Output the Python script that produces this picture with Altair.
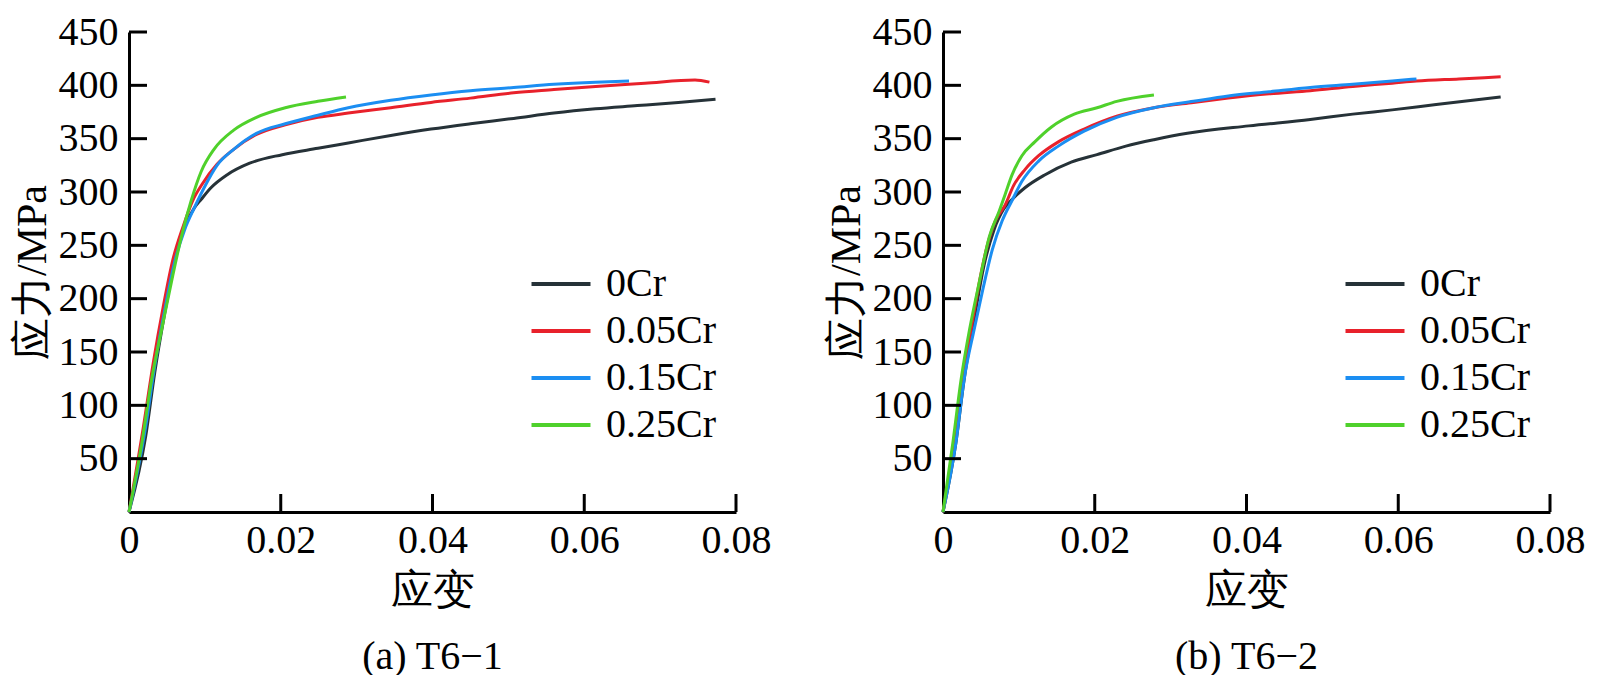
import altair as alt
import pandas as pd

SERIES = ["0Cr", "0.05Cr", "0.15Cr", "0.25Cr"]
COLORS = ["#263238", "#e8212b", "#1b8ef2", "#4fd12b"]
XTICKS = [0, 0.02, 0.04, 0.06, 0.08]
YTICKS = [50, 100, 150, 200, 250, 300, 350, 400, 450]
CAPTIONS = ["(a) T6\u22121", "(b) T6\u22122"]
X_TITLE = "应变"
Y_TITLE = "应力/MPa"

# ---- panel (a) T6-1 ----
a_0cr_strain = [0, 0.0022, 0.0034, 0.0047, 0.006, 0.0073, 0.0086, 0.0095, 0.0108, 0.0129, 0.0159,
                0.0202, 0.0249, 0.0289, 0.0345, 0.0398, 0.045, 0.0507, 0.056, 0.0615, 0.067, 0.0724, 0.0773]
a_0cr_stress = [0, 71, 131, 186, 234, 267, 285, 293, 304, 316, 327, 335, 341, 346, 353, 359, 364,
                369, 374, 378, 381, 384, 387]
a_005_strain = [0, 0.0019, 0.0032, 0.0045, 0.0058, 0.0071, 0.0084, 0.0097, 0.0116, 0.0138, 0.0168,
                0.0206, 0.0249, 0.0289, 0.0345, 0.0398, 0.045, 0.0507, 0.056, 0.0615, 0.068, 0.0746, 0.0765]
a_005_stress = [0, 80, 140, 192, 237, 267, 292, 308, 326, 340, 354, 363, 370, 374, 379, 384, 388,
                393, 396, 399, 402, 405, 403]
a_015_strain = [0, 0.0022, 0.0034, 0.0047, 0.006, 0.0073, 0.0086, 0.0099, 0.0116, 0.0138, 0.0168,
                0.0206, 0.0249, 0.0289, 0.0345, 0.0398, 0.045, 0.0507, 0.056, 0.0615, 0.0659]
a_015_stress = [0, 80, 137, 189, 234, 264, 285, 304, 325, 340, 355, 364, 372, 379, 386, 391, 395,
                398, 401, 403, 404]
a_025_strain = [0, 0.0017, 0.003, 0.0043, 0.0056, 0.0069, 0.0082, 0.0095, 0.0112, 0.0138, 0.0168,
                0.0206, 0.0249, 0.0286]
a_025_stress = [0, 65, 125, 171, 216, 258, 292, 319, 340, 358, 370, 379, 385, 389]

# ---- panel (b) T6-2 ----
b_0cr_strain = [0, 0.0017, 0.0028, 0.0041, 0.0054, 0.0067, 0.008, 0.0091, 0.0108, 0.0134, 0.0169,
                0.0203, 0.0241, 0.0278, 0.0322, 0.0403, 0.0484, 0.054, 0.0592, 0.065, 0.0735]
b_0cr_stress = [0, 65, 125, 180, 231, 264, 284, 293, 304, 316, 328, 335, 343, 349, 355, 362, 368,
                373, 377, 382, 389]
b_005_strain = [0, 0.0015, 0.0026, 0.0037, 0.0048, 0.0058, 0.0069, 0.0082, 0.0093, 0.0108, 0.0126,
                0.0152, 0.0186, 0.0229, 0.0278, 0.033, 0.0376, 0.043, 0.0484, 0.054, 0.0592, 0.0624,
                0.068, 0.0735]
b_005_stress = [0, 65, 125, 171, 216, 249, 273, 288, 306, 321, 334, 347, 359, 371, 379, 384, 388,
                392, 395, 399, 402, 404, 406, 408]
b_015_strain = [0, 0.0017, 0.0028, 0.0041, 0.0052, 0.0065, 0.0078, 0.0091, 0.0104, 0.0126, 0.0152,
                0.0186, 0.0229, 0.0278, 0.033, 0.0376, 0.043, 0.0484, 0.054, 0.0592, 0.0624]
b_015_stress = [0, 65, 125, 171, 207, 246, 273, 292, 310, 329, 343, 357, 370, 379, 385, 390, 394,
                398, 401, 404, 406]
b_025_strain = [0, 0.0013, 0.0024, 0.0035, 0.0048, 0.0061, 0.0074, 0.0082, 0.0091, 0.0104, 0.0121,
                0.0143, 0.0173, 0.0203, 0.0229, 0.0278]
b_025_stress = [0, 65, 125, 171, 216, 258, 282, 298, 316, 334, 347, 361, 373, 379, 385, 391]

FONT = "Liberation Serif, Times New Roman, DejaVu Serif, serif"
W, H = 607, 480
TICK_LEN = 18


def frame(pairs):
    rows = []
    for name, (xs, ys) in zip(SERIES, pairs):
        for i, (x, y) in enumerate(zip(xs, ys)):
            rows.append({"series": name, "strain": x, "stress": y, "i": i})
    return pd.DataFrame(rows)


def panel(df, caption):
    x_enc = alt.X(
        "strain:Q",
        scale=alt.Scale(domain=[0, 0.08], nice=False, zero=True),
        axis=alt.Axis(
            values=XTICKS, title=X_TITLE, grid=False, ticks=False, tickSize=0,
            labelExpr="datum.value == 0 ? '0' : format(datum.value, '.2f')",
            domainColor="black", domainWidth=3, labelColor="black",
            labelFont=FONT, labelFontSize=40, labelPadding=8, labelFlush=False,
            titleFont=FONT, titleFontSize=42, titleFontWeight="normal", titleColor="black",
            titlePadding=10,
        ),
    )
    y_enc = alt.Y(
        "stress:Q",
        scale=alt.Scale(domain=[0, 450], nice=False),
        axis=alt.Axis(
            values=YTICKS, title=Y_TITLE, grid=False, ticks=False, tickSize=0,
            domainColor="black", domainWidth=3, labelColor="black",
            labelFont=FONT, labelFontSize=40, labelPadding=11, labelFlush=False,
            titleFont=FONT, titleFontSize=42, titleFontWeight="normal", titleColor="black",
            titlePadding=4,
        ),
    )
    lines = alt.Chart(df).mark_line(strokeWidth=3, interpolate="monotone").encode(
        x=x_enc,
        y=y_enc,
        color=alt.Color(
            "series:N",
            scale=alt.Scale(domain=SERIES, range=COLORS),
            legend=alt.Legend(
                title=None, orient="none", legendX=412, legendY=232,
                symbolType="M-2,0H2", symbolSize=870, symbolStrokeWidth=4,
                labelFont=FONT, labelFontSize=40, labelColor="black", labelOffset=25,
                rowPadding=7, labelLimit=300,
            ),
        ),
        order="i:Q",
    )
    xt = pd.DataFrame({"strain": XTICKS[1:]})
    yt = pd.DataFrame({"stress": YTICKS})
    xticks = alt.Chart(xt).mark_rule(color="black", strokeWidth=3).encode(
        x=x_enc, y=alt.value(H), y2=alt.value(H - TICK_LEN)
    )
    yticks = alt.Chart(yt).mark_rule(color="black", strokeWidth=3).encode(
        y=y_enc, x=alt.value(0), x2=alt.value(TICK_LEN)
    )
    return alt.layer(lines, xticks, yticks).properties(
        width=W, height=H,
        title=alt.TitleParams(caption, orient="bottom", font=FONT, fontSize=40,
                              fontWeight="normal", color="black", offset=26, anchor="middle"),
    )


df_a = frame([(a_0cr_strain, a_0cr_stress), (a_005_strain, a_005_stress),
              (a_015_strain, a_015_stress), (a_025_strain, a_025_stress)])
df_b = frame([(b_0cr_strain, b_0cr_stress), (b_005_strain, b_005_stress),
              (b_015_strain, b_015_stress), (b_025_strain, b_025_stress)])

chart = alt.hconcat(
    panel(df_a, CAPTIONS[0]), panel(df_b, CAPTIONS[1]), spacing=207, bounds="flush"
).resolve_scale(color="independent").resolve_legend(color="independent").properties(
    padding={"left": 3, "top": 4, "right": 0, "bottom": 0}, background="white"
).configure(font=FONT).configure_view(stroke=None)

chart.save("out.html", embed_options={"renderer": "svg", "actions": False})
